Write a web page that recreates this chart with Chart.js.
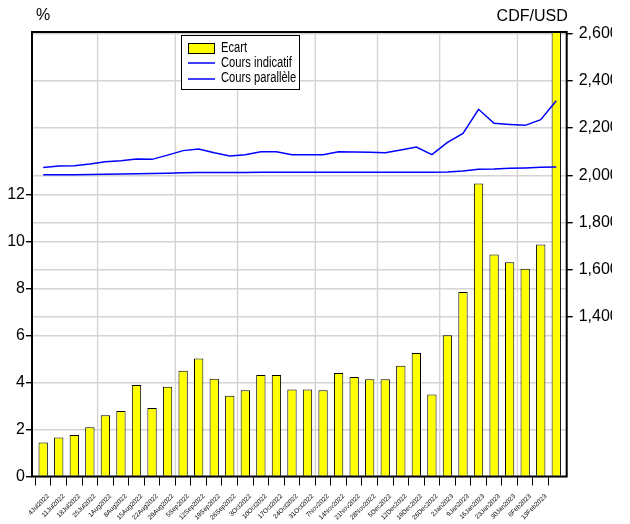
<!DOCTYPE html>
<html><head><meta charset="utf-8">
<script src="https://cdn.jsdelivr.net/npm/chart.js@4"></script>
<style>html,body{margin:0;padding:0;background:#fff;} canvas{display:block;}</style>
</head><body>
<canvas id="c" width="612" height="524"></canvas>
<script>
// ---- data ----
const categories = ["4Jul2022","11Jul2022","18Jul2022","25Jul2022","1Aug2022","8Aug2022","15Aug2022","22Aug2022","29Aug2022",
  "5Sep2022","12Sep2022","19Sep2022","26Sep2022","3Oct2022","10Oct2022","17Oct2022","24Oct2022","31Oct2022",
  "7Nov2022","14Nov2022","21Nov2022","28Nov2022","5Dec2022","12Dec2022","19Dec2022","26Dec2022",
  "2Jan2023","9Jan2023","16Jan2023","23Jan2023","30Jan2023","6Feb2023","13Feb2023","20Feb2023"];
const ecart = [1.45,1.66,1.76,2.09,2.6,2.78,3.89,2.91,3.82,4.5,5.02,4.16,3.43,3.67,4.32,4.32,3.7,3.7,
  3.67,4.4,4.23,4.14,4.14,4.71,5.25,3.49,6.01,7.85,12.46,9.44,9.11,8.83,9.86,20];
const coursIndicatif = [2002,2002,2002,2003,2004,2005,2006,2007,2008,2010,2011,2011,2011,2011,2012,2012,2012,
  2012,2012,2012,2012,2012,2013,2013,2013,2013,2014,2018,2025,2026,2029,2031,2034,2035];
const coursParallele = [2033,2039,2040,2047,2057,2061,2069,2067,2085,2104,2111,2095,2081,2087,2099,2099,2087,
  2087,2087,2099,2098,2097,2095,2107,2119,2087,2139,2177,2279,2220,2215,2211,2235,2315];
const leftTicks = [0,2,4,6,8,10,12];
const rightTicks = [1400,1600,1800,2000,2200,2400,2600];
// the reference labels every week except the final one
const labelledCount = categories.length - 1;

const monthOf = s => s.replace(/^\d+/, '').slice(0, 3);
const pts = arr => arr.map((v, i) => ({x: i, y: v}));

const narrowFont = (() => {
  const c = document.createElement('canvas').getContext('2d');
  c.font = "20px 'Liberation Sans Narrow', 'Liberation Sans'"; const a = c.measureText('Cours parallèle').width;
  c.font = "20px 'Liberation Sans'"; const b = c.measureText('Cours parallèle').width;
  return a < b * 0.95;
})();
const NARROW = "'Liberation Sans Narrow', 'Liberation Sans'";

const extras = {
  id: 'extras',
  beforeDatasetsDraw(chart) {
    const {ctx, chartArea: a, scales: {x}} = chart;
    ctx.save();
    ctx.strokeStyle = '#d4d4d4'; ctx.lineWidth = 1.4;
    for (let i = 0; i < categories.length - 1; i++) {
      if (monthOf(categories[i]) !== monthOf(categories[i + 1])) {
        const px = x.getPixelForValue(i + 0.5);
        ctx.beginPath(); ctx.moveTo(px, a.top); ctx.lineTo(px, a.bottom); ctx.stroke();
      }
    }
    ctx.restore();
  },
  afterDatasetsDraw(chart) {
    const {ctx, chartArea: a} = chart;
    ctx.save();
    ctx.strokeStyle = '#000'; ctx.lineWidth = 2;
    ctx.strokeRect(a.left, a.top, a.right - a.left, a.bottom - a.top);
    ctx.restore();
  },
  afterDraw(chart) {
    const {ctx, chartArea: a} = chart;
    const ds = chart.data.datasets;
    ctx.save();
    // axis unit titles
    ctx.fillStyle = '#000';
    ctx.font = "16px 'Liberation Sans'";
    ctx.textBaseline = 'alphabetic';
    ctx.textAlign = 'left';
    ctx.fillText('%', 36, 20);
    ctx.textAlign = 'right';
    ctx.fillText('CDF/USD', a.right + 1, 21);
    // legend
    const lx = 181.5, ly = 35.5, lw = 118, lh = 54;
    ctx.fillStyle = '#fff'; ctx.fillRect(lx, ly, lw, lh);
    ctx.strokeStyle = '#000'; ctx.lineWidth = 1; ctx.strokeRect(lx, ly, lw, lh);
    ctx.fillStyle = '#ffff00'; ctx.fillRect(188.5, 43.5, 26, 10); ctx.strokeRect(188.5, 43.5, 26, 10);
    ctx.strokeStyle = '#0000ff'; ctx.lineWidth = 1.5;
    [63, 79].forEach(y => { ctx.beginPath(); ctx.moveTo(188, y); ctx.lineTo(215, y); ctx.stroke(); });
    ctx.fillStyle = '#000'; ctx.textAlign = 'left'; ctx.textBaseline = 'middle';
    ctx.font = "14px " + NARROW;
    const ys = [48.5, 63, 78.5];
    [0, 1, 2].forEach(k => {
      ctx.save();
      ctx.translate(221, ys[k]);
      if (!narrowFont) ctx.scale(0.8, 1);
      ctx.fillText(ds[k].label, 0, 0);
      ctx.restore();
    });
    ctx.restore();
  }
};

new Chart(document.getElementById('c'), {
  type: 'bar',
  data: {
    datasets: [
      { type: 'bar', label: 'Ecart', data: pts(ecart), xAxisID: 'x', yAxisID: 'y',
        backgroundColor: '#ffff00', borderColor: '#000', borderWidth: 1,
        barPercentage: 0.6, categoryPercentage: 1, clip: 0, order: 2 },
      { type: 'line', label: 'Cours indicatif', data: pts(coursIndicatif), xAxisID: 'x', yAxisID: 'y1',
        borderColor: '#0000ff', borderWidth: 1.5, pointRadius: 0, tension: 0, fill: false, order: 1 },
      { type: 'line', label: 'Cours parallèle', data: pts(coursParallele), xAxisID: 'x', yAxisID: 'y1',
        borderColor: '#0000ff', borderWidth: 1.5, pointRadius: 0, tension: 0, fill: false, order: 0 }
    ]
  },
  options: {
    responsive: false, animation: false,
    layout: { padding: { top: 32, left: 0, right: 0, bottom: 0 } },
    plugins: { legend: { display: false }, tooltip: { enabled: false } },
    scales: {
      x: {
        type: 'linear', min: -0.72, max: 33.67, offset: false,
        afterBuildTicks: s => { s.ticks = categories.slice(0, labelledCount).map((_, i) => ({value: i})); },
        afterFit: s => { s.height = 47.5; },
        grid: { drawOnChartArea: false, drawTicks: true, tickLength: 9, tickColor: '#000', lineWidth: 1 },
        border: { display: false },
        ticks: { autoSkip: false, maxRotation: 45, minRotation: 45, padding: 7, labelOffset: 5, color: '#000',
          font: { family: "'Liberation Sans'", size: 6.5 },
          callback: v => categories[v] }
      },
      y: {
        position: 'left', min: 0, max: 18.9,
        afterBuildTicks: s => { s.ticks = leftTicks.map(v => ({value: v})); },
        afterFit: s => { s.width = 32; },
        grid: { color: '#d4d4d4', lineWidth: 1.4, tickColor: '#000', tickLength: 6, drawTicks: true },
        border: { display: false },
        ticks: { padding: 1, color: '#000', font: { family: "'Liberation Sans'", size: 16 } }
      },
      y1: {
        position: 'right', min: 725, max: 2606,
        afterBuildTicks: s => { s.ticks = rightTicks.map(v => ({value: v})); },
        afterFit: s => { s.width = 45.3; },
        grid: { color: '#d4d4d4', lineWidth: 1.4, tickColor: '#000', tickLength: 6, drawTicks: true },
        border: { display: false },
        ticks: { padding: 6, color: '#000', font: { family: "'Liberation Sans'", size: 16 },
          callback: v => v.toLocaleString('en-US') }
      }
    }
  },
  plugins: [extras]
});
</script>
</body></html>
